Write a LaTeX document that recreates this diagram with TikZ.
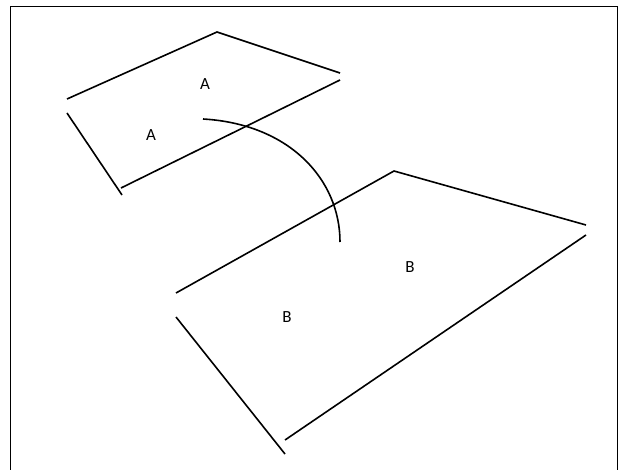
\documentclass[tikz,border=0pt]{standalone}
\usepackage{fontspec}
\setmainfont{Carlito}
\tikzset{
  edge/.style={line width=1.6pt, line cap=butt},
  frame/.style={line width=1.2pt},
  lbl/.style={font=\fontsize{17}{19}\selectfont, inner sep=0pt}
}
\begin{document}
\begin{tikzpicture}[x=1pt,y=-1pt]
\useasboundingbox (0,0) rectangle (620,470);
\draw[frame] (10.7,6.2) -- (617.5,6.2) -- (617.5,475) (10.7,6.2) -- (10.7,475);
% plane A
\coordinate (a1) at (67,99);
\coordinate (a2) at (217,32);
\coordinate (a3) at (340,73);
\coordinate (a4) at (340,80);
\coordinate (a5) at (121,188);
\coordinate (a6) at (67,113);
\coordinate (a7) at (122,195);
\draw[edge] (a1) -- (a2) -- (a3);
\draw[edge] (a4) -- (a5);
\draw[edge] (a6) -- (a7);
% plane B
\coordinate (b1) at (176,293);
\coordinate (b2) at (394,171);
\coordinate (b3) at (586,225);
\coordinate (b4) at (586,235);
\coordinate (b5) at (285,440);
\coordinate (b6) at (176,317);
\coordinate (b7) at (285,454);
\draw[edge] (b1) -- (b2) -- (b3);
\draw[edge] (b4) -- (b5);
\draw[edge] (b6) -- (b7);
% arc
\coordinate (c1) at (203,119);
\coordinate (c2) at (340,242);
\draw[edge] (c1) .. controls (290,124) and (340,180) .. (c2);
% labels
\node[lbl] (la1) at (205,84) {A};
\node[lbl] (la2) at (151,135) {A};
\node[lbl] (lb1) at (410,267) {B};
\node[lbl] (lb2) at (287,317) {B};
\end{tikzpicture}
\end{document}
